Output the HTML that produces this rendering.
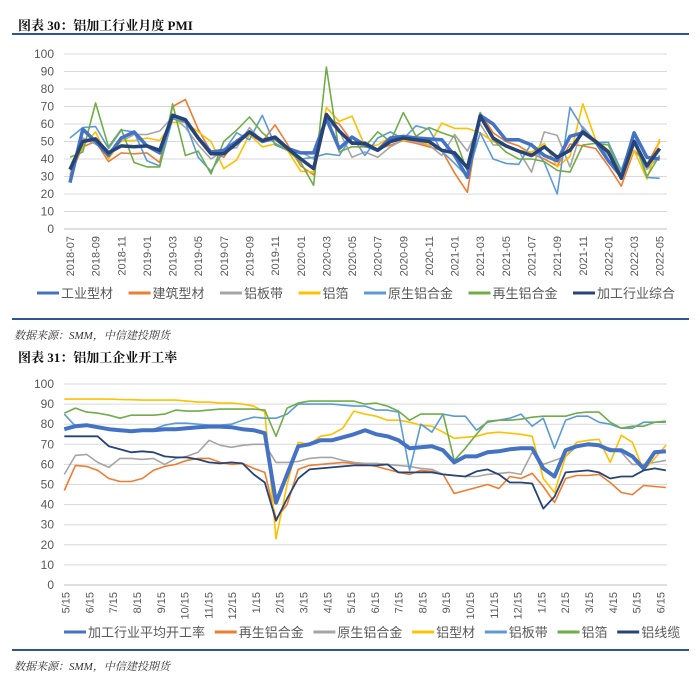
<!DOCTYPE html>
<html><head><meta charset="utf-8">
<style>
body{margin:0;background:#fff;width:700px;height:689px;overflow:hidden;font-family:"Liberation Sans","Noto Sans CJK SC",sans-serif;}
.ttl{position:absolute;left:18px;font-weight:bold;font-size:13px;color:#111;font-family:"Liberation Serif","Noto Serif CJK SC",serif;}
.rule{position:absolute;left:12px;width:677px;height:2px;background:#2d5597;}
.src{position:absolute;left:14px;font-size:11px;font-style:italic;color:#333;font-family:"Liberation Serif","Noto Serif CJK SC",serif;}
svg{position:absolute;left:0;top:0}
</style></head><body>
<div class="ttl" style="top:15px">图表 30：铝加工行业月度 PMI</div>
<div class="rule" style="top:33px"></div>
<div class="rule" style="top:318px"></div>
<div class="src" style="top:327px">数据来源：SMM，中信建投期货</div>
<div class="ttl" style="top:347px">图表 31：铝加工企业开工率</div>
<div class="rule" style="top:649px"></div>
<div class="src" style="top:658px">数据来源：SMM，中信建投期货</div>
<svg id="c" width="700" height="689"></svg>
<script>
// ---- Chart 1 data (monthly PMI) ----
const pmiMonths=["2018-07","2018-08","2018-09","2018-10","2018-11","2018-12","2019-01","2019-02","2019-03","2019-04","2019-05","2019-06","2019-07","2019-08","2019-09","2019-10","2019-11","2019-12","2020-01","2020-02","2020-03","2020-04","2020-05","2020-06","2020-07","2020-08","2020-09","2020-10","2020-11","2020-12","2021-01","2021-02","2021-03","2021-04","2021-05","2021-06","2021-07","2021-08","2021-09","2021-10","2021-11","2021-12","2022-01","2022-02","2022-03","2022-04","2022-05"];
const pmiNames=["工业型材","建筑型材","铝板带","铝箔","原生铝合金","再生铝合金","加工行业综合"];
const pmiIndustrial=[26.5,57,50,42,52,55.5,47.5,43.5,65,62,52,44,45,50,55.5,50,52,46,43.5,43.5,63,46,52.5,48,45,52,53,52,51.5,51,42,29.5,65,60,51,51,48,42,39,53,55,50,39,30,55,41,40];
const pmiBuilding=[31,47,50,38.5,43.5,43,43.5,38,70,74,57,44,41,51,53.5,50,59.5,48,36,31,63.5,60,50,47,45.5,48,50.5,49,47,45,32,21,66.5,55,50,47.5,43,40,36,48.5,47.5,46,36,24.5,45,37,50];
const pmiSheet=[30,52,48.5,44,50,54,54,56,64,58,48,40,45,46.5,58,50,51,45,44,40,62,56,41,44,41,47,51,50,48,42,54,44.5,60,48,48,44.5,32.5,55.5,53.5,35.5,58.5,50,42,34,51,34,42];
const pmiFoil=[33,47.5,55.5,40,50.5,50.5,52,50.5,61,61,55.5,50,34.5,39.5,54,47,48.5,44.5,33,32.5,69.5,61.5,64.5,47.5,48,52.5,50.5,51.5,48,60.5,57.5,57.5,55,50,48,45,44,49,35.5,41.5,71.5,51,45,30,45,28.5,51.5];
const pmiPrimary=[52,58,58.5,46,56.5,55.5,39,36,63,61,41,33,44.5,55,51,65,48,45,40,41,43,42,53,42,52,55.5,51.5,59,57,44.5,37.5,30,55,40,37.5,37,49,38,20,69.5,57.5,49.5,49.5,33.5,55,29.5,29];
const pmiRecycled=[41,44,72,47,57,38,35.5,35.5,71.5,42,44.5,31.5,50,56.5,64,55,49,45,38,25,92.5,44,47,47,55.5,50,66.5,53,58,55,52.5,33,66.5,51,44,40,40,38.5,33.5,32.5,48,49,48,31,50,30,42];
const pmiComposite=[34,50,51.5,43.5,47.5,47,47.5,45,65,62.5,52,43,43,49,55.5,50.5,52.5,46,40,34.5,65.5,56,49,49,45,50,52,51,50,45,43.5,35,64.5,52,47.5,44.5,42,47,41,45,55.5,50,44,29,50,36,46];
const pmiTicks=[0,10,20,30,40,50,60,70,80,90,100];
// ---- Chart 2 data (biweekly operating rates) ----
const rateDates=["5/15","6/15","7/15","8/15","9/15","10/15","11/15","12/15","1/15","2/15","3/15","4/15","5/15","6/15","7/15","8/15","9/15","10/15","11/15","12/15","1/15","2/15","3/15","4/15","5/15","6/15"];
const rateNames=["加工行业平均开工率","再生铝合金","原生铝合金","铝型材","铝板带","铝箔","铝线缆"];
const rateAvg=[77.5,79,79.5,78.5,77.5,77,76.5,77,77,77.5,77.5,78,78.5,78.8,78.8,78.5,77.5,77,75.5,41,55,69,70,72,72,73.5,75,77,75,74,72,68,68.5,69,67,61,64,64,66,66.5,67.5,68,68,58,54,67,69,70,69.5,67,67,64,58,66,66.5];
const rateRecycled=[47,59.5,59,57,53,51.5,51.5,53,57,59,60,62,63,63,61,60,60.5,58,56,33,40,57.5,59.5,60,60.5,61,60.5,60,59,57.5,56,55,57,56.5,55,45.5,47,48.5,50,48,54,53,55.5,49,41,53,54.5,54.5,55,51,46,45,49.5,49,48.5];
const ratePrimary=[55,64.5,65,61,58.5,63,63,62.5,63,60,63,64,66,72,69.5,68.5,69.5,70,70,61,61,61.5,63,63.5,63.5,62,61,60.5,60.5,60,59.5,59,58,57.5,55,54.5,54,54,55,55.5,56,55,66,60,62,64,69,69.5,69,68,66,60,60,61,62];
const rateProfile=[92.5,92.5,92.5,92.5,92.5,92.3,92.2,92,92,92,92,91.5,91,91,90.5,90.5,90,89,86,23,50,71,70,74,75,78,86.5,85,84,82,82,81,79.5,79,76,73,73.5,74,75.5,76,75.5,75,74,53,46,64,71,72,72.5,61,74.5,71,57,63,69.5];
const rateSheet=[85,79,79.5,79,77.5,77,76.5,77,77.5,79.5,80.5,80.5,80,79.5,79.5,80,82,83.5,83,83,85,90,90,90,90,89.5,89,89,87,87,86,57,80,76,85,84,84,77,81,82,83,85,79,83,68,82,84,84,81,80,78,78,81,81,81];
const rateFoil=[85.5,88,86,85.5,84.5,83,84.5,84.5,84.5,85,87,86.5,86.5,87,87.5,87.5,87.5,87.5,87,74,88,90.5,91.5,91.5,91.5,91.5,91.5,90,90.5,89,86.5,82,85,85,85,62,68,75,81.5,82,82,82.5,83.5,84,84,84,85.5,86,86,81,78,79,79,81,81.5];
const rateCable=[74,74,74,74,69,67.5,66,66.5,66,64,63.5,63.5,62.5,61,60.5,61,60.5,55,51,32,43,53,57.5,58,58.5,59,59.5,59.5,59.5,60,56,56,56,56,55,54.5,54,56.5,57.5,55,51,51,50.5,38,44,56,56.5,57,56,53,54,54,57,58,57];
const rateTicks=[0,10,20,30,40,50,60,70,80,90,100];

const colors=["#4472c4","#ed7d31","#a5a5a5","#ffc000","#5b9bd5","#70ad47","#264478"];
const NS="http://www.w3.org/2000/svg";
const svg=document.getElementById('c');
function mk(tag,attrs,parent){const e=document.createElementNS(NS,tag);for(const k in attrs)e.setAttribute(k,attrs[k]);(parent||svg).appendChild(e);return e;}

function drawChart(cfg){
  const g=mk('g',{});
  
  
  const yS=v=>cfg.y0-(v/100)*(cfg.y0-cfg.y100);
  cfg.ticks.forEach(t=>{
    const ln=mk('line',{x1:cfg.left,x2:cfg.right,y1:yS(t),y2:yS(t),stroke:t===0?'#bfbfbf':'#d9d9d9','stroke-width':1},g);
    
    
    const tx=mk('text',{x:cfg.left-10,y:yS(t)+4,'text-anchor':'end','font-size':12,fill:'#595959'},g);
    tx.textContent=t;
    
    
  });
  const xS=i=>cfg.x0+i*cfg.dx;
  cfg.labels.forEach((lb,k)=>{
    const x=cfg.labelX(k);
    const tx=mk('text',{x:0,y:0,'text-anchor':'end','font-size':11,fill:'#595959',transform:`translate(${x+4},${cfg.y0+7}) rotate(-90)`},g);
    tx.textContent=lb;
    
    
  });
  cfg.order.forEach(s=>{
    const d=cfg.series[s].map((v,i)=>(i?'L':'M')+xS(i).toFixed(1)+','+yS(v).toFixed(1)).join('');
    const p=mk('path',{d:d,fill:'none',stroke:colors[s],'stroke-width':cfg.widths[s],'stroke-linejoin':'round'},g);
    
    
  });
  let x=cfg.legX;
  cfg.names.forEach((nm,s)=>{
    const ln=mk('line',{x1:x,x2:x+22,y1:cfg.legY,y2:cfg.legY,stroke:colors[s],'stroke-width':3},g);
    
    
    const tx=mk('text',{x:x+24,y:cfg.legY+5,'font-size':13,fill:'#595959'},g);
    tx.textContent=nm;
    
    
    x+=24+nm.length*13+cfg.legGap;
  });
}

drawChart({name:'pmi-chart',left:64,right:667,y0:229,y100:54,x0:70,dx:12.82,ticks:pmiTicks,
  labels:pmiMonths.filter((m,i)=>i%2===0),labelX:k=>70+k*2*12.82,
  series:[pmiIndustrial,pmiBuilding,pmiSheet,pmiFoil,pmiPrimary,pmiRecycled,pmiComposite],
  order:[1,2,3,4,5,0,6],widths:[3.5,1.6,1.6,1.6,1.6,1.6,3.5],
  names:pmiNames,legX:37,legY:293,legGap:15.5});

drawChart({name:'operating-rate-chart',left:64,right:667,y0:585,y100:384,x0:64.3,dx:11.14,ticks:rateTicks,
  labels:rateDates,labelX:k=>65.6+k*23.79,
  series:[rateAvg,rateRecycled,ratePrimary,rateProfile,rateSheet,rateFoil,rateCable],
  order:[1,2,3,4,5,0,6],widths:[4,1.6,1.6,1.6,1.6,1.6,1.8],
  names:rateNames,legX:64,legY:632,legGap:9.7});
</script>
</body></html>
